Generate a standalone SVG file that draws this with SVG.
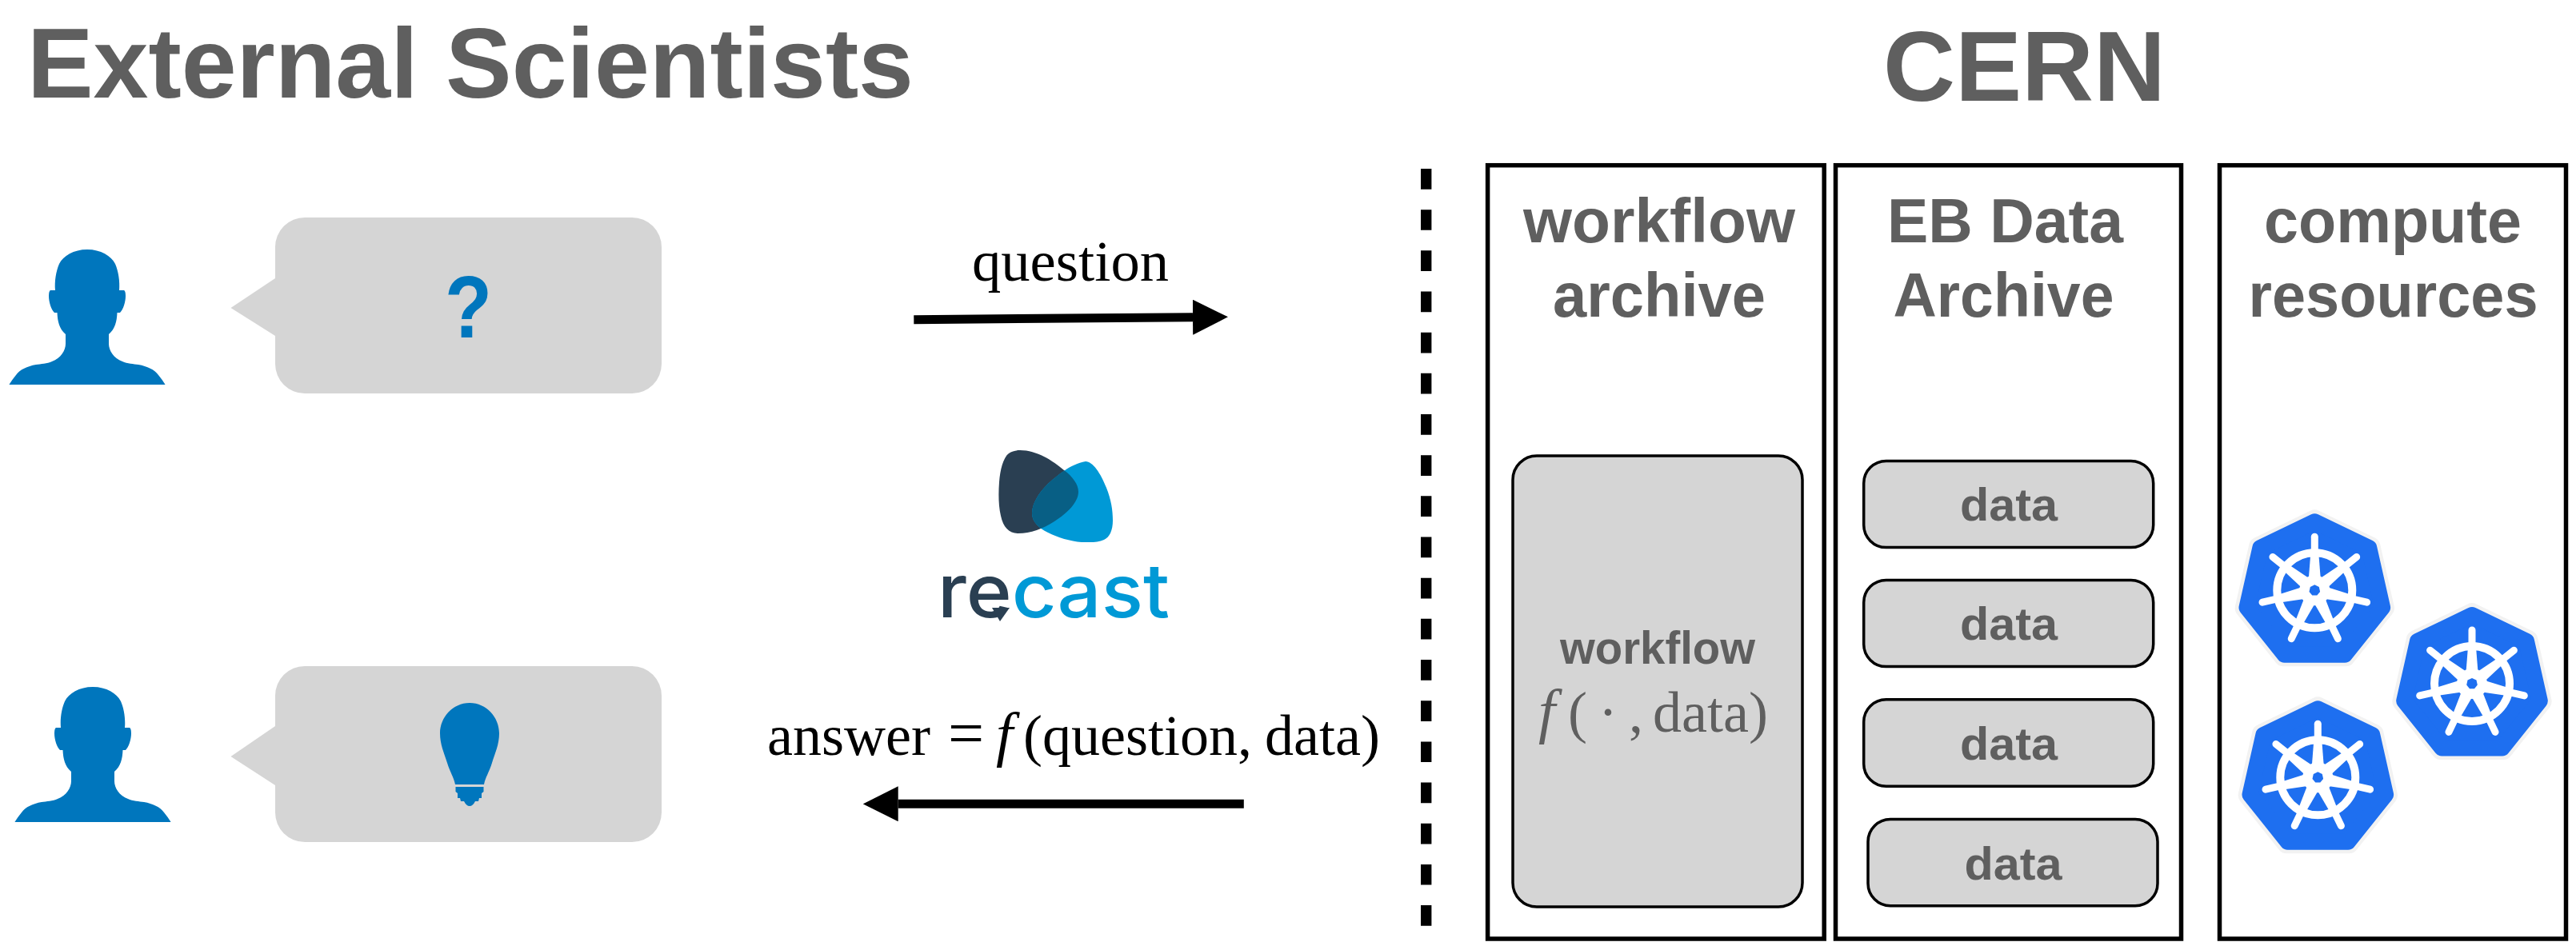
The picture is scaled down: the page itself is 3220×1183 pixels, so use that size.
<svg xmlns="http://www.w3.org/2000/svg" xmlns:xlink="http://www.w3.org/1999/xlink" width="3220" height="1183" viewBox="0 0 3220 1183">
<style>
text{font-family:"Liberation Sans",Arial,sans-serif;fill:#5f5f5f}
.b{font-weight:700}
.title{font-size:124px;font-weight:700}
.head{font-size:77px;font-weight:700;text-anchor:middle}
.small{font-size:57px;font-weight:700;text-anchor:middle}
.serif{font-family:"Liberation Serif","Times New Roman",serif;font-size:72px;fill:#000}
.serif.g{fill:#5f5f5f}
.it{font-style:italic;font-size:76px}
.panel{fill:#fff;stroke:#000;stroke-width:5.5}
.item{fill:#d5d5d5;stroke:#000;stroke-width:3.5}
.bubble{fill:#d5d5d5}
.blue{fill:#0076bd}
.conn{fill:none;stroke:#000;stroke-width:11}
</style>
<defs>
<marker id="head" viewBox="0 0 44 44" refX="0" refY="22" markerWidth="44" markerHeight="44" markerUnits="userSpaceOnUse" orient="auto"><path d="M0 0L44 22L0 44Z" fill="#000"/></marker>
<path id="person" d="M0 0C17 0 30 8 35 18C39 27 41 40 40 51L46 51Q48 52 48 58C48 66 45 75 41 79L37.5 79C37 90 35 99 27 106L27 118C27 126 33 136 44 140C50 143 58 143 64 144C75 146 84 150 89 157Q94 163 97.6 169L-97.6 169Q-94 163 -89 157C-84 150 -75 146 -64 144C-58 143 -50 143 -44 140C-33 136 -27 126 -27 118L-27 106C-35 99 -37 90 -37.5 79L-41 79C-45 75 -48 66 -48 58Q-48 52 -46 51L-40 51C-41 40 -39 27 -35 18C-30 8 -17 0 0 0Z"/>
<g id="spoke">
<path d="M-8 -8L-5 -46L5 -46L8 -8Z" fill="#fff"/>
<path d="M0 -49L0 -67" stroke="#fff" stroke-width="9" stroke-linecap="round" fill="none"/>
</g>
<g id="k8s">
<path d="M0 -86L68 -53.2L84.8 21.4L37.7 80.4L-37.7 80.4L-84.8 21.4L-68 -53.2Z" transform="scale(1.04)" fill="#fff" stroke="#f2f2f2" stroke-width="22" stroke-linejoin="round"/>
<path d="M0 -86L68 -53.2L84.8 21.4L37.7 80.4L-37.7 80.4L-84.8 21.4L-68 -53.2Z" fill="#1e6ff0" stroke="#1e6ff0" stroke-width="20" stroke-linejoin="round"/>
<circle r="47" fill="none" stroke="#fff" stroke-width="10"/>
<circle r="19" fill="#fff"/>
<use xlink:href="#spoke" href="#spoke"/>
<use xlink:href="#spoke" href="#spoke" transform="rotate(51.43)"/>
<use xlink:href="#spoke" href="#spoke" transform="rotate(102.86)"/>
<use xlink:href="#spoke" href="#spoke" transform="rotate(154.29)"/>
<use xlink:href="#spoke" href="#spoke" transform="rotate(205.71)"/>
<use xlink:href="#spoke" href="#spoke" transform="rotate(257.14)"/>
<use xlink:href="#spoke" href="#spoke" transform="rotate(308.57)"/>
<path d="M0 -7L5.5 -4.4L6.8 1.6L3 6.3L-3 6.3L-6.8 1.6L-5.5 -4.4Z" fill="#1e6ff0"/>
</g>
<path id="logoDark" d="M1275 563C1296 563 1316 576 1330 588C1341 596 1348 606 1348 615C1348 628 1334 642 1318 652C1304 661 1288 667 1273 667C1262 667 1254 660 1251 645C1248 632 1248 617 1249 603C1250 588 1254 572 1261 567C1265 564 1270 563 1275 563Z"/>
<clipPath id="logoClip"><use xlink:href="#logoDark" href="#logoDark"/></clipPath>
<path id="logoBlue" d="M1357 577C1366 577 1376 592 1383 610C1389 625 1391 638 1391 651C1391 663 1387 672 1380 675C1372 679 1362 678 1352 678C1338 677 1322 672 1310 666C1298 660 1290 652 1290 642C1290 630 1298 617 1309 606C1320 596 1338 580 1357 577Z"/>
</defs>

<text id="title-left" class="title" x="34" y="122" textLength="1108" lengthAdjust="spacingAndGlyphs">External Scientists</text>
<text id="title-right" class="title" x="2354" y="126" textLength="353" lengthAdjust="spacingAndGlyphs">CERN</text>

<g id="scientist-top">
<use xlink:href="#person" href="#person" class="blue" transform="translate(109,312)"/>
<path class="bubble" d="M381 272H790A37 37 0 0 1 827 309V455A37 37 0 0 1 790 492H381A37 37 0 0 1 344 455V420L288.5 385L344 348V309A37 37 0 0 1 381 272Z"/>
<text x="556" y="422" textLength="59" lengthAdjust="spacingAndGlyphs" class="b" style="font-size:110px;fill:#0076bd">?</text>
</g>

<g id="scientist-bottom">
<use xlink:href="#person" href="#person" class="blue" transform="translate(116,859)"/>
<path class="bubble" d="M381 833H790A37 37 0 0 1 827 870V1016A37 37 0 0 1 790 1053H381A37 37 0 0 1 344 1016V982L288.5 946L344 908V870A37 37 0 0 1 381 833Z"/>
<g class="blue" transform="translate(587,879)">
<path d="M0 0C21 0 37 18 37 38C37 52 32 62 28 75C24 88 20 92 18 102L-18 102C-20 92 -24 88 -28 75C-32 62 -37 52 -37 38C-37 18 -21 0 0 0Z"/>
<path d="M-17.5 105H17.5V111L15 113V119H12L11 123H7Q4 129 0 129Q-4 129 -7 123H-11L-12 119H-15V113L-17.5 111Z"/>
</g>
</g>

<g id="connectors">
<path class="conn" d="M1142.3 399.7L1491 396.7" marker-end="url(#head)"/>
<path class="conn" d="M1554.8 1005.3L1122.7 1005.3" marker-end="url(#head)"/>
<path d="M1782.7 211V1158" fill="none" stroke="#000" stroke-width="13.4" stroke-dasharray="25.7 25.47"/>
</g>
<text id="label-question" class="serif" x="1215" y="350.7" textLength="246" lengthAdjust="spacingAndGlyphs">question</text>
<text id="label-answer" class="serif" y="944"><tspan x="959">answer</tspan><tspan x="1185" style="font-size:80px">=</tspan><tspan x="1245" class="it">f</tspan><tspan x="1279">(question,</tspan><tspan x="1581">data)</tspan></text>

<g id="recast-logo">
<use xlink:href="#logoDark" href="#logoDark" fill="#2a3f52"/>
<use xlink:href="#logoBlue" href="#logoBlue" fill="#0099d6"/>
<g clip-path="url(#logoClip)"><use xlink:href="#logoBlue" href="#logoBlue" fill="#085f85"/></g>
<text x="1172" y="771.7" textLength="290" lengthAdjust="spacingAndGlyphs" style="font-family:Inter,'Liberation Sans',sans-serif;font-size:93px;font-weight:500"><tspan style="fill:#2a3f52">re</tspan><tspan style="fill:#0099d6">cast</tspan></text>
<path d="M1240 760H1262L1250 777Z" fill="#2a3f52"/>
</g>

<g id="workflow-archive">
<rect class="panel" x="1859.6" y="206.7" width="420.6" height="967.3"/>
<text class="head" x="2074" y="302.7" textLength="340" lengthAdjust="spacingAndGlyphs">workflow</text>
<text class="head" x="2074" y="396" textLength="266" lengthAdjust="spacingAndGlyphs">archive</text>
<rect class="item" x="1891" y="570" width="362" height="564" rx="30"/>
<text class="small" x="2072" y="830" textLength="244" lengthAdjust="spacingAndGlyphs">workflow</text>
<text class="serif g" y="915"><tspan x="1923" class="it">f</tspan><tspan x="1960">(</tspan><tspan x="1998">·</tspan><tspan x="2036">,</tspan><tspan x="2066">data)</tspan></text>
</g>

<g id="eb-data-archive">
<rect class="panel" x="2294.5" y="206.7" width="432" height="967.3"/>
<text class="head" x="2506.5" y="302.7" textLength="295" lengthAdjust="spacingAndGlyphs">EB Data</text>
<text class="head" x="2504.5" y="396" textLength="276" lengthAdjust="spacingAndGlyphs">Archive</text>
<g id="data-1"><rect class="item" x="2329.7" y="576.4" width="362" height="108.2" rx="28"/><text class="small" x="2511" y="651.4" textLength="122" lengthAdjust="spacingAndGlyphs">data</text></g>
<g id="data-2"><rect class="item" x="2329.7" y="725.4" width="362" height="108.2" rx="28"/><text class="small" x="2511" y="800.4" textLength="122" lengthAdjust="spacingAndGlyphs">data</text></g>
<g id="data-3"><rect class="item" x="2329.7" y="874.7" width="362" height="108.6" rx="28"/><text class="small" x="2511" y="950.1" textLength="122" lengthAdjust="spacingAndGlyphs">data</text></g>
<g id="data-4"><rect class="item" x="2335" y="1024.5" width="362" height="108.3" rx="28"/><text class="small" x="2516.5" y="1099.5" textLength="122" lengthAdjust="spacingAndGlyphs">data</text></g>
</g>

<g id="compute-resources">
<rect class="panel" x="2774.5" y="206.7" width="433" height="967.3"/>
<text class="head" x="2991" y="302.7" textLength="322" lengthAdjust="spacingAndGlyphs">compute</text>
<text class="head" x="2991.5" y="396" textLength="362" lengthAdjust="spacingAndGlyphs">resources</text>
<use xlink:href="#k8s" href="#k8s" transform="translate(2893.3,738.3)"/>
<use xlink:href="#k8s" href="#k8s" transform="translate(3090,855)"/>
<use xlink:href="#k8s" href="#k8s" transform="translate(2897.3,972.3)"/>
</g>
</svg>
